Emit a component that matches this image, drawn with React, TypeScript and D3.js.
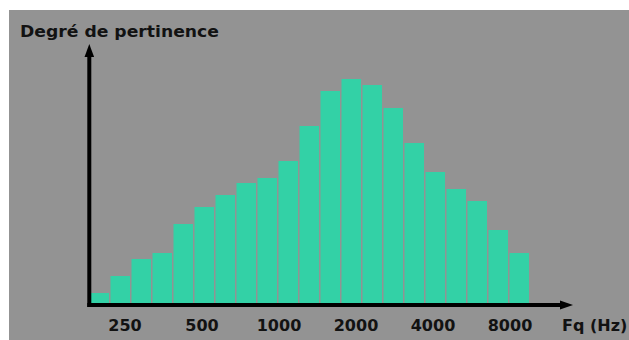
import React from "react";
import * as d3 from "d3";

const bandValues: number[] = [10, 27, 44, 50, 79, 96, 108, 120, 125, 142, 177, 212, 224, 218, 195, 160, 131, 114, 102, 73, 50];
const tickFreqs: number[] = [250, 500, 1000, 2000, 4000, 8000];
const tickLabels: string[] = ["250", "500", "1000", "2000", "4000", "8000"];
const yTitle = "Degré de pertinence";
const xTitle = "Fq (Hz)";

const W = 629;
const H = 340;
const x0 = 89.5;
const baseline = 303;
const topY = 45;

export default function App() {
  const idx = bandValues.map((_, i) => i);
  const xBand = d3.scaleBand<number>().domain(idx).range([x0, x0 + 21 * bandValues.length]).paddingInner(0);
  const y = d3.scaleLinear().domain([0, baseline - topY]).range([baseline, topY]);
  const xLog = d3.scaleLog().domain([250, 8000]).range([125, 510]);
  const bw = xBand.bandwidth() - 1.5;
  const font = "'DejaVu Sans', Verdana, sans-serif";
  const textColor = "#121212";

  return (
    <svg width={W} height={H} style={{ position: "absolute", left: 0, top: 0 }}>
      <rect x={0} y={0} width={W} height={H} fill="#ffffff" />
      <rect x={9} y={10} width={W - 9} height={H - 10} fill="#939393" />
      {bandValues.map((v, i) => (
        <rect
          key={i}
          x={xBand(i)!}
          y={y(v)}
          width={bw}
          height={baseline - y(v)}
          fill="#33d1a6"
        />
      ))}
      {/* y axis */}
      <line x1={89.3} y1={307} x2={89.3} y2={56} stroke="#000" strokeWidth={4} />
      <path d="M89.3,44 L84.5,57 L94.1,57 Z" fill="#000" />
      {/* x axis */}
      <line x1={87.3} y1={305} x2={561} y2={305} stroke="#000" strokeWidth={4} />
      <path d="M573,305 L560,300.5 L560,309.5 Z" fill="#000" />
      {tickFreqs.map((f, i) => (
        <text
          key={f}
          x={xLog(f)}
          y={331}
          textAnchor="middle"
          fontFamily={font}
          fontWeight="bold"
          fontSize={16}
          fill={textColor}
        >
          {tickLabels[i]}
        </text>
      ))}
      <text x={562} y={331} fontFamily={font} fontWeight="bold" fontSize={16} fill={textColor}>
        {xTitle}
      </text>
      <text
        x={20}
        y={36.7}
        fontFamily={font}
        fontWeight="bold"
        fontSize={15}
        fill={textColor}
        textLength={199}
        lengthAdjust="spacingAndGlyphs"
      >
        {yTitle}
      </text>
    </svg>
  );
}
